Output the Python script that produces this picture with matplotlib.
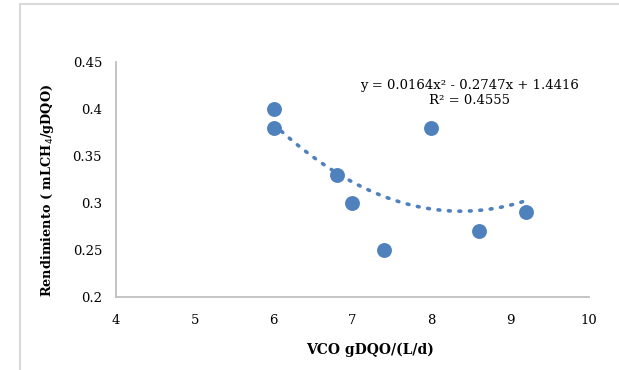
import numpy as np
import matplotlib
matplotlib.use("Agg")
import matplotlib.pyplot as plt
from matplotlib.lines import Line2D

# datos
vco = [6.0, 6.0, 6.8, 7.0, 7.4, 8.0, 8.6, 9.2]
rend = [0.40, 0.38, 0.33, 0.30, 0.25, 0.38, 0.27, 0.29]
coef = [0.0164, -0.2747, 1.4416]
r2 = 0.4555
xticks = [4, 5, 6, 7, 8, 9, 10]
yticks = [0.2, 0.25, 0.3, 0.35, 0.4, 0.45]
ytick_labels = ["0.2", "0.25", "0.3", "0.35", "0.4", "0.45"]

plt.rcParams['font.family'] = ['DejaVu Serif']
azul = '#4F81BD'
gris = '#BFBFBF'

fig = plt.figure(figsize=(6.19, 3.70), dpi=100)
# marco del grafico
fig.add_artist(Line2D([20/619, 20/619], [0, 1 - 4/370], transform=fig.transFigure, color='#D9D9D9', lw=1.5))
fig.add_artist(Line2D([20/619, 1], [1 - 4/370, 1 - 4/370], transform=fig.transFigure, color='#D9D9D9', lw=1.5))

ax = fig.add_axes([116/619, 73/370, 473/619, 235/370])
ax.set_xlim(4, 10)
ax.set_ylim(0.2, 0.45)
ax.set_xticks(xticks)
ax.set_yticks(yticks)
ax.set_yticklabels(ytick_labels)
ax.tick_params(length=0, labelsize=9.5)
ax.tick_params(axis='x', pad=12)
ax.tick_params(axis='y', pad=10)
for s in ['top', 'right']:
	ax.spines[s].set_visible(False)
for s in ['left', 'bottom']:
	ax.spines[s].set_color(gris)
	ax.spines[s].set_linewidth(1.3)

# linea de tendencia polinomica
xt = np.linspace(min(vco), max(vco), 200)
yt = np.polyval(coef, xt)
ax.plot(xt, yt, color=azul, lw=2.6, linestyle=(0, (0.5, 2.4)), dash_capstyle='round', zorder=2)

ax.scatter(vco, rend, s=115, color=azul, zorder=3, linewidths=0)

ax.text(8.48, 0.417, "y = %sx² - %sx + %s\nR² = %s" % (coef[0], -coef[1], coef[2], r2),
	ha='center', va='center', fontsize=9.5, linespacing=1.15)

ax.set_xlabel("VCO gDQO/(L/d)", fontsize=10, fontweight='bold')
ax.xaxis.set_label_coords(0.538, -0.195)
ax.set_ylabel("Rendimiento ( mLCH$_4$/gDQO)", fontsize=9.3, fontweight='bold')
ax.yaxis.set_label_coords(-0.127, 0.455)

fig.savefig("out.png", dpi=100)
